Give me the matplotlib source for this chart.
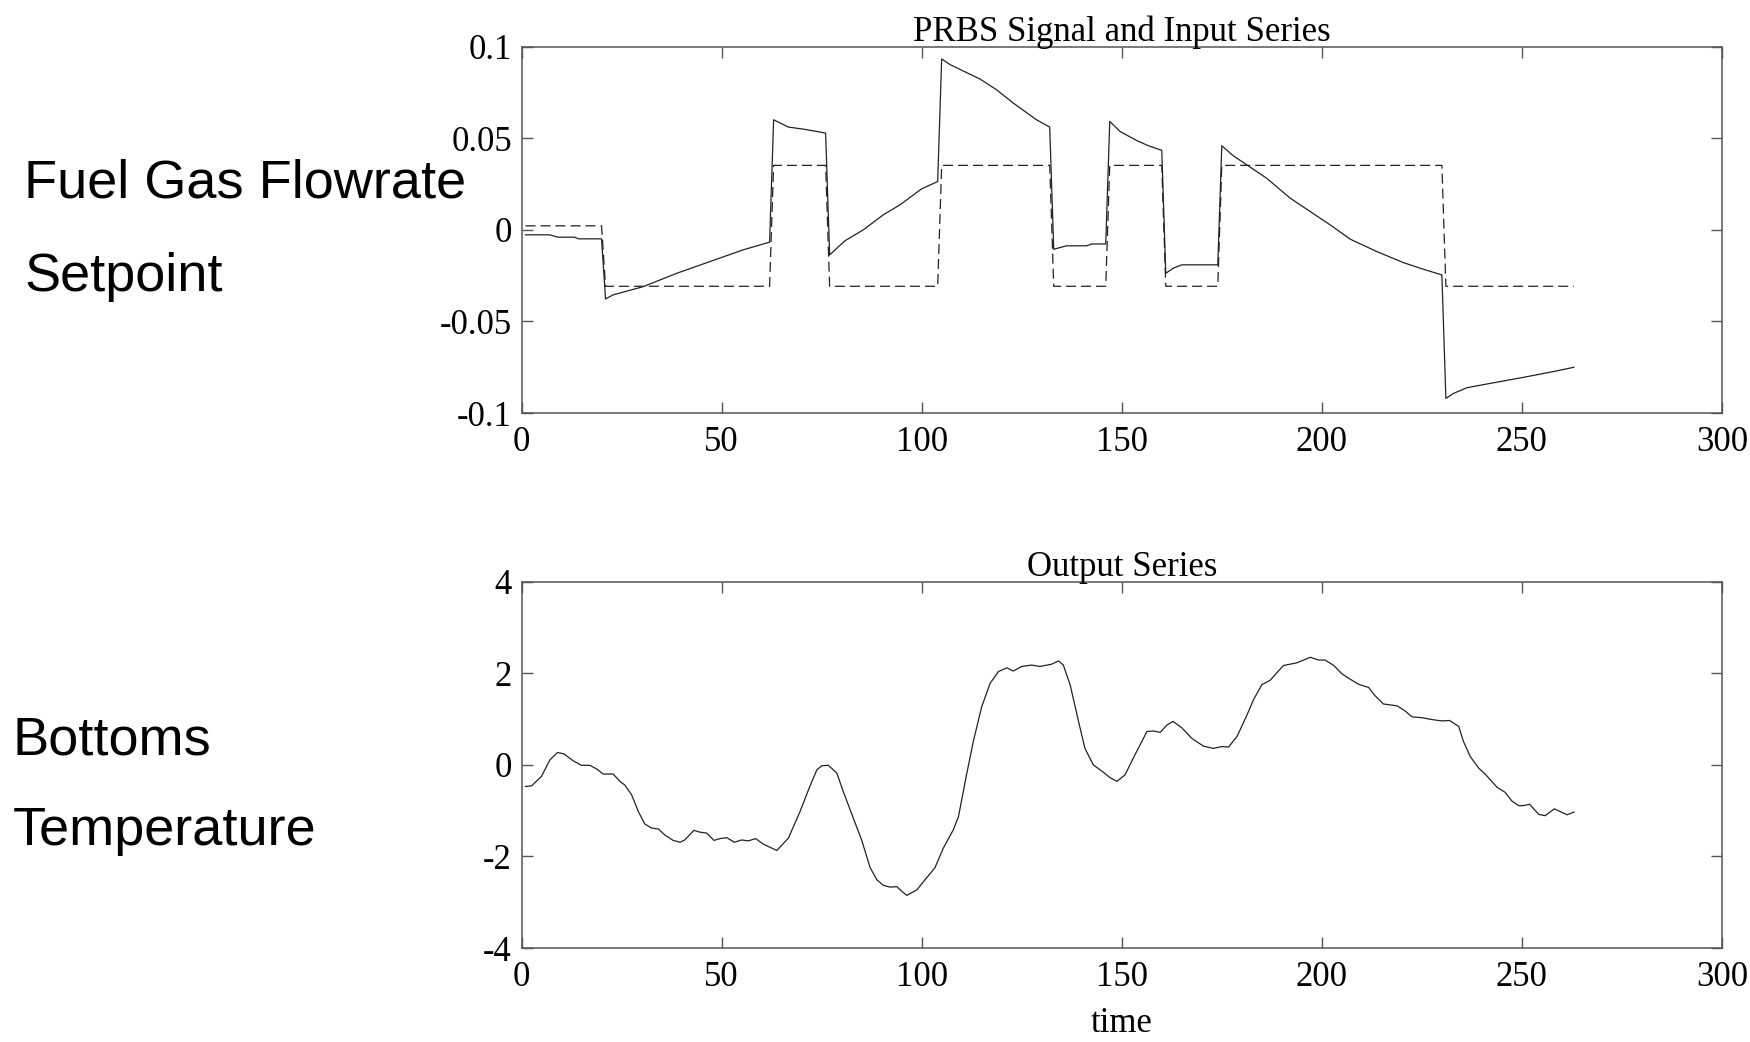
import matplotlib.pyplot as plt
import numpy as np

# PRBS setpoint signal (dashed), corner points of the steps
prbs_t = [1, 20, 21, 62, 63, 76, 77, 104, 105, 132, 133, 146, 147, 160,
          161, 174, 175, 230, 231, 263]
prbs_v = [0.0022, 0.0022, -0.0308, -0.0308, 0.0352, 0.0352, -0.0308, -0.0308,
          0.0352, 0.0352, -0.0308, -0.0308, 0.0352, 0.0352, -0.0308, -0.0308,
          0.0352, 0.0352, -0.0308, -0.0308]

# input series (solid)
inp_t = [1, 7, 9.2, 13.3, 14.2, 20, 21, 22.9, 30.4, 38.8, 47.1, 55.4, 62,
         63, 66.7, 70.4, 73.3, 76, 77, 80.8, 85.4, 90.4, 94.6, 100, 104,
         105, 107.1, 114.6, 118.7, 122.9, 128.7, 132, 133, 136.2, 141.2, 142.5, 146,
         147, 149.6, 153.7, 156.7, 160, 161, 162.9, 165, 174,
         175, 177.9, 186.2, 192.1, 197.1, 202.1, 207.1, 213.7, 220.4, 225.4, 230,
         231, 232.9, 236.2, 242.1, 250.4, 258.7, 263]
inp_v = [-0.0027, -0.0027, -0.0040, -0.0040, -0.0049, -0.0049, -0.0377, -0.0355,
         -0.0310, -0.0237, -0.0173, -0.0109, -0.0067,
         0.0601, 0.0561, 0.0550, 0.0539, 0.0528, -0.0137, -0.0060, 0.0000, 0.0082,
         0.0137, 0.0224, 0.0264,
         0.0933, 0.0902, 0.0823, 0.0765, 0.0692, 0.0601, 0.0561, -0.0106, -0.0087,
         -0.0087, -0.0077, -0.0077,
         0.0592, 0.0537, 0.0488, 0.0459, 0.0434, -0.0237, -0.0209, -0.0191, -0.0191,
         0.0459, 0.0404, 0.0282, 0.0173, 0.0100, 0.0027, -0.0051, -0.0118, -0.0179,
         -0.0215, -0.0246,
         -0.0920, -0.0893, -0.0862, -0.0838, -0.0805, -0.0770, -0.0750]

# output series (bottoms temperature)
out_t = [1, 2.5, 5, 7.1, 9, 10.6, 12.9, 15, 17.1, 18.8, 20.4, 22.9, 24.6, 25.8,
         27.5, 29.2, 30.8, 32.5, 34.2, 35.8, 37.9, 39.6, 40.8, 43.1, 44.6, 46.3,
         48.1, 49.6, 51.3, 53.2, 55, 56.7, 58.5, 60.4, 63.8, 66.7, 69.6, 72.1,
         73.8, 75, 76.7, 78.8, 80.4, 82.9, 85, 87.1, 88.8, 90.4, 92.1, 93.8, 95,
         96.3, 98.8, 101.2, 103.3, 105.4, 107.9, 109.2, 111.2, 112.9, 115, 117.1,
         119.2, 121.3, 122.9, 125, 127.5, 129.6, 132.5, 134.2, 135.4, 137.1, 139.2,
         140.8, 142.9, 145.4, 147.1, 148.8, 150.8, 153.3, 156.3, 157.9, 159.6,
         161.3, 162.8, 165, 167.5, 170.4, 172.9, 175, 176.7, 178.8, 181.3, 182.9,
         185, 187.1, 190.4, 193.8, 197.1, 199.2, 200.8, 203, 205, 207.1, 209.2,
         211.7, 213.3, 215.4, 218.8, 220.8, 222.5, 225, 227.5, 230, 231.9, 234.2,
         235.4, 237.1, 239.2, 240.8, 243.8, 245.8, 247.5, 249.2, 250.4, 251.9,
         254.2, 255.8, 258.1, 261.3, 263]
out_v = [-0.47, -0.46, -0.25, 0.11, 0.27, 0.24, 0.09, -0.01, -0.01, -0.09, -0.20,
         -0.20, -0.36, -0.44, -0.65, -1.02, -1.29, -1.38, -1.40, -1.53, -1.65,
         -1.69, -1.64, -1.43, -1.47, -1.49, -1.65, -1.61, -1.59, -1.69, -1.64,
         -1.66, -1.61, -1.73, -1.87, -1.60, -1.02, -0.46, -0.11, -0.02, -0.01,
         -0.18, -0.58, -1.16, -1.64, -2.24, -2.51, -2.63, -2.67, -2.66, -2.76,
         -2.85, -2.73, -2.47, -2.25, -1.82, -1.42, -1.13, -0.22, 0.51, 1.27, 1.78,
         2.04, 2.12, 2.05, 2.15, 2.18, 2.15, 2.20, 2.27, 2.18, 1.75, 0.95, 0.36,
         0.00, -0.16, -0.28, -0.36, -0.22, 0.22, 0.73, 0.74, 0.71, 0.87, 0.95,
         0.81, 0.58, 0.41, 0.36, 0.40, 0.39, 0.62, 1.09, 1.42, 1.75, 1.85, 2.17,
         2.23, 2.35, 2.29, 2.29, 2.17, 1.99, 1.87, 1.76, 1.69, 1.51, 1.33, 1.29,
         1.18, 1.05, 1.03, 0.99, 0.96, 0.97, 0.84, 0.51, 0.18, -0.07, -0.20,
         -0.49, -0.60, -0.79, -0.89, -0.89, -0.86, -1.08, -1.11, -0.96, -1.09, -1.03]

xticks = [0, 50, 100, 150, 200, 250, 300]
top_yticks = [-0.1, -0.05, 0, 0.05, 0.1]
top_ylabels = ['-0.1', '-0.05', '0', '0.05', '0.1']
bot_yticks = [-4, -2, 0, 2, 4]

serif = 'Liberation Serif'
sans = 'Liberation Sans'
line_c = '#222222'
spine_c = '#555555'

fig = plt.figure(figsize=(17.5, 10.42), dpi=100)
ax1 = fig.add_axes([0.298, 0.6036, 0.686, 0.3516])
ax2 = fig.add_axes([0.298, 0.0902, 0.686, 0.3515])

ax1.plot(prbs_t, prbs_v, color=line_c, lw=0.9, linestyle=(0, (8, 4)))
ax1.plot(inp_t, inp_v, color=line_c, lw=0.9)
ax2.plot(out_t, out_v, color=line_c, lw=0.9)

for ax in (ax1, ax2):
    ax.set_xlim(0, 300)
    ax.set_xticks(xticks)
    ax.set_xticklabels([str(v) for v in xticks])
    ax.tick_params(direction='in', length=8, width=1, color=spine_c,
                   top=True, right=True, labelsize=25)
    ax.tick_params(axis='x', pad=9)
    ax.tick_params(axis='y', pad=7)
    for lab in ax.get_xticklabels() + ax.get_yticklabels():
        lab.set_fontfamily(serif)
    for sp in ax.spines.values():
        sp.set_color(spine_c)
        sp.set_linewidth(1.1)

ax1.set_ylim(-0.1, 0.1)
ax1.set_yticks(top_yticks)
ax1.set_yticklabels(top_ylabels, fontfamily=serif)
ax1.set_title('PRBS Signal and Input Series', fontfamily=serif, fontsize=25, pad=4)

ax2.set_ylim(-4, 4)
ax2.set_yticks(bot_yticks)
ax2.set_yticklabels([str(v) for v in bot_yticks], fontfamily=serif)
ax2.set_title('Output Series', fontfamily=serif, fontsize=25, pad=4)
ax2.set_xlabel('time', fontfamily=serif, fontsize=25, labelpad=10)

fig.text(0.0140, 0.8100, 'Fuel Gas Flowrate', fontfamily=sans, fontsize=39, va='baseline')
fig.text(0.0140, 0.7204, 'Setpoint', fontfamily=sans, fontsize=39, va='baseline')
fig.text(0.0070, 0.2756, 'Bottoms', fontfamily=sans, fontsize=39, va='baseline')
fig.text(0.0070, 0.1892, 'Temperature', fontfamily=sans, fontsize=39, va='baseline')

fig.savefig('out.png', dpi=100, facecolor='white')
